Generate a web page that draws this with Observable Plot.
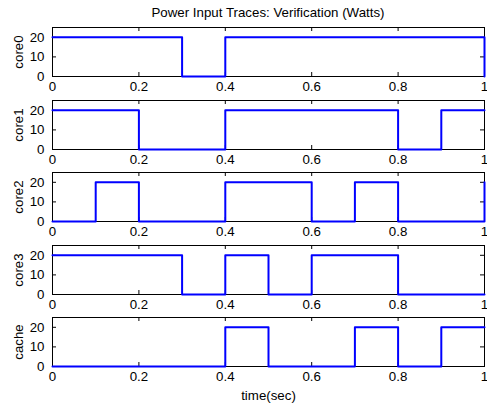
<!DOCTYPE html>
<html>
<head>
<meta charset="utf-8">
<script src="https://cdn.jsdelivr.net/npm/d3@7"></script>
<script src="https://cdn.jsdelivr.net/npm/@observablehq/plot@0.6"></script>
<style>
  html, body { margin: 0; padding: 0; background: white; }
  #wrap { position: relative; width: 487px; height: 405px; font-family: "Liberation Sans", Arial, Helvetica, sans-serif; }
  #title { position: absolute; left: 52px; width: 432px; top: 5px; line-height: 15px; font-size: 13.3px; text-align: center; color: black; white-space: nowrap; }
  .panel { position: absolute; left: 0; }
</style>
</head>
<body>
<div id="wrap">
  <div id="title">Power Input Traces: Verification (Watts)</div>
</div>
<script>
const times = [0, 0.1, 0.2, 0.3, 0.4, 0.5, 0.6, 0.7, 0.8, 0.9, 1.0];
const core0 = [20, 20, 20, 0, 20, 20, 20, 20, 20, 20, 0];
const core1 = [20, 20, 0, 0, 20, 20, 20, 20, 0, 20, 20];
const core2 = [0, 20, 0, 0, 20, 20, 0, 20, 0, 0, 20];
const core3 = [20, 20, 20, 0, 20, 0, 20, 20, 0, 0, 0];
const cache = [0, 0, 0, 0, 20, 0, 0, 20, 0, 20, 20];
const seriesNames = ["core0", "core1", "core2", "core3", "cache"];
const seriesValues = [core0, core1, core2, core3, cache];
const xTicks = [0, 0.2, 0.4, 0.6, 0.8, 1];
const yTicks = [0, 10, 20];
const xLabel = "time(sec)";

const W = 487, ML = 52, MR = 3, MT = 7, INNER = 49;
const wrap = document.getElementById("wrap");

seriesNames.forEach((name, i) => {
  const last = i === seriesNames.length - 1;
  const height = last ? 95 : 72;
  const MB = height - MT - INNER;
  const data = times.map((t, j) => ({t, v: seriesValues[i][j]}));
  const chart = Plot.plot({
    width: W,
    height,
    marginLeft: ML,
    marginRight: MR,
    marginTop: MT,
    marginBottom: MB,
    style: {fontFamily: "'Liberation Sans', Arial, Helvetica, sans-serif", fontSize: "13.3px", color: "black", background: "transparent", overflow: "visible"},
    x: {domain: [0, 1]},
    y: {domain: [0, 25]},
    marks: [
      Plot.frame({stroke: "black", strokeWidth: 1}),
      Plot.tickX(xTicks, {x: d => d, insetBottom: INNER - 4, stroke: "black"}),
      Plot.tickX(xTicks, {x: d => d, insetTop: INNER - 4, stroke: "black"}),
      Plot.tickY(yTicks, {y: d => d, insetRight: W - ML - MR - 4, stroke: "black"}),
      Plot.tickY(yTicks, {y: d => d, insetLeft: W - ML - MR - 4, stroke: "black"}),
      Plot.axisX(xTicks, {
        tickSize: 0, tickPadding: 5, tickFormat: d3.format("~g"), fontSize: 13.3,
        label: last ? xLabel : null, labelAnchor: "center", labelArrow: "none", labelOffset: 33
      }),
      Plot.axisY(yTicks, {
        tickSize: 0, tickPadding: 8, tickFormat: d3.format("~g"), fontSize: 13.3,
        label: name, labelAnchor: "center", labelArrow: "none", labelOffset: 39
      }),
      Plot.line(data, {x: "t", y: "v", curve: "step-after", stroke: "#0000ff", strokeWidth: 2})
    ]
  });
  const div = document.createElement("div");
  div.className = "panel";
  div.style.top = (20 + i * 72.5) + "px";
  div.appendChild(chart);
  wrap.appendChild(div);
});
</script>
</body>
</html>
